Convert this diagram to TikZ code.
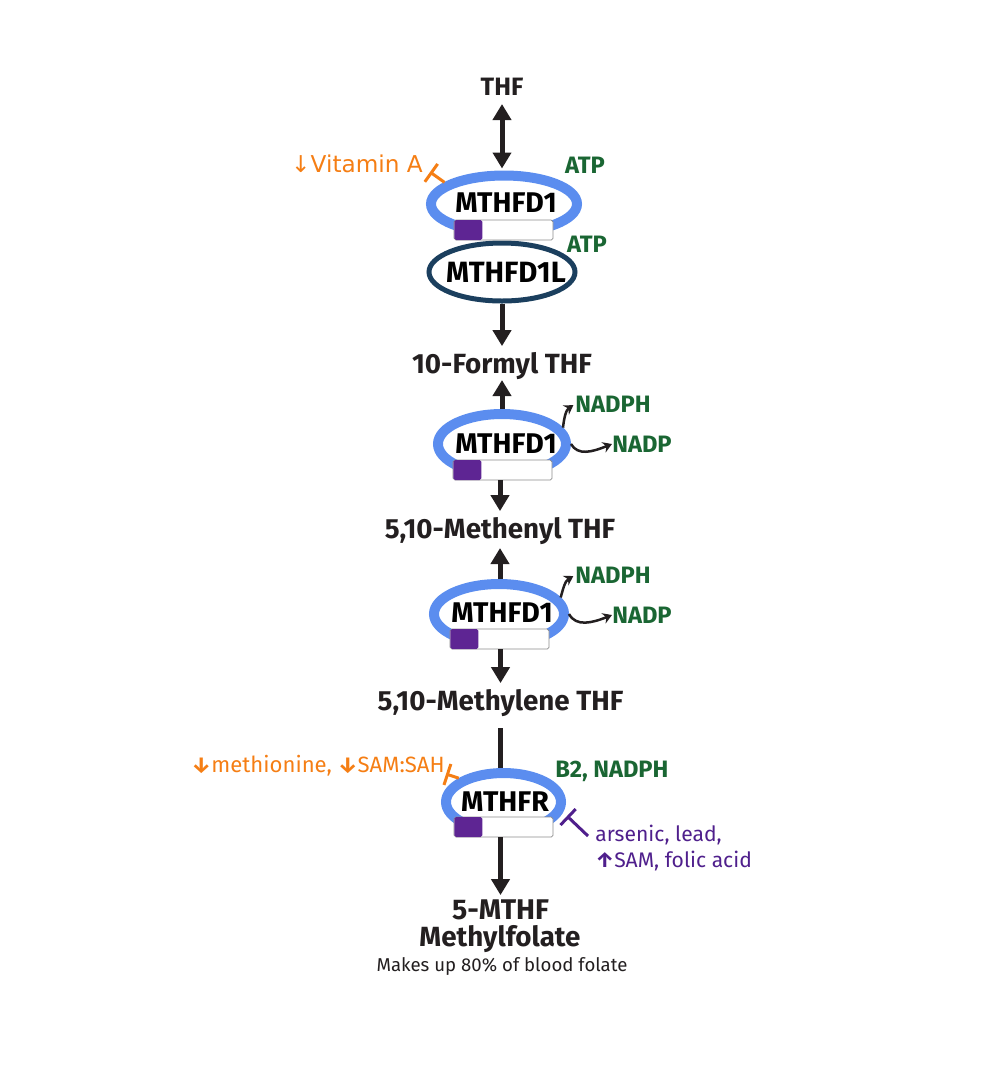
\documentclass[tikz,border=0pt]{standalone}
\usepackage{fontspec}
\setmainfont{Fira Sans}
\newfontfamily\djv{DejaVu Sans}
\usepackage{xcolor}
\usetikzlibrary{arrows.meta}
\usetikzlibrary{shapes.geometric}
\definecolor{enzblue}{HTML}{5B8DEF}
\definecolor{enznavy}{HTML}{1B3F5E}
\definecolor{barpurple}{HTML}{5E2593}
\definecolor{cofgreen}{HTML}{1A6633}
\definecolor{inhorange}{HTML}{F57E14}
\definecolor{inhpurple}{HTML}{4F1F8C}
\definecolor{inkdark}{HTML}{231F20}
\def\pxl{0.02cm}
\tikzset{
 metab/.style={anchor=base,inner sep=0pt,outer sep=0pt,text=inkdark,font=\fontsize{15.8}{17}\selectfont\bfseries,text height=15.3pt,text depth=4pt},
 enzring/.style={ellipse,draw=enzblue,line width=10*\pxl,minimum width=146*\pxl,minimum height=60*\pxl,inner sep=0pt,outer sep=5*\pxl},
 enzname/.style={inner sep=0pt,text=black,font=\fontsize{16.2}{17}\selectfont\bfseries},
 barbox/.style={draw=black!45,fill=white,rounded corners=1pt,line width=.4pt,minimum width=99*\pxl,minimum height=20*\pxl,inner sep=0pt,outer sep=0pt},
 barfill/.style={fill=barpurple,rounded corners=1pt,minimum width=28*\pxl,minimum height=20*\pxl,inner sep=0pt},
 cof/.style={inner sep=0pt,text=cofgreen,font=\fontsize{13.5}{15}\selectfont\bfseries},
 flow/.style={draw=inkdark,line width=5*\pxl,-{Triangle[width=18*\pxl,length=16*\pxl]}},
 flowboth/.style={draw=inkdark,line width=5*\pxl,{Triangle[width=18*\pxl,length=16*\pxl]}-{Triangle[width=18*\pxl,length=16*\pxl]}},
 side/.style={draw=inkdark,line width=2.5*\pxl,-{Stealth[width=11*\pxl,length=9*\pxl]}},
 inhibit/.style={line width=3*\pxl,-{Bar[width=22*\pxl,line width=3*\pxl]}}
}
\begin{document}
\begin{tikzpicture}[x=\pxl,y=-\pxl]
\useasboundingbox (0,0) rectangle (1000,1076);

% metabolites
\node[metab,font=\fontsize{14.3}{17}\selectfont\bfseries] (thf) at (502,95) {THF};
\node[metab] (formyl) at (502,373) {10-Formyl THF};
\node[metab] (methenyl) at (500,538) {5,10-Methenyl THF};
\node[metab] (methylene) at (500.5,710) {5,10-Methylene THF};
\node[metab,font=\fontsize{16.2}{17}\selectfont\bfseries,text height=13.6pt] (mthf) at (500.5,919) {5-MTHF};
\node[metab] (folate) at (500,946) {Methylfolate};
\node[anchor=base,inner sep=0pt,text=inkdark,font=\fontsize{10.6}{12}\selectfont] (note) at (502,971) {Makes up 80\% of blood folate};

% enzymes
\node[enzring,minimum width=146*\pxl,minimum height=57*\pxl] (ringa) at (504,204) {};
\node[enzring,draw=enznavy,line width=5*\pxl,outer sep=2.5*\pxl,minimum width=146*\pxl,minimum height=58*\pxl] (ringb) at (502,272) {};
\node[enzring,minimum width=128*\pxl,minimum height=60*\pxl] (ringc) at (502,444) {};
\node[enzring,minimum width=130*\pxl,minimum height=60*\pxl] (ringd) at (499,614) {};
\node[enzring,minimum width=115*\pxl,minimum height=58*\pxl] (ringe) at (503.5,802) {};

% bars on the enzymes
\node[barbox] (bara) at (503.5,230) {};
\node[barbox] (barc) at (502.5,470) {};
\node[barbox] (bard) at (499.5,639) {};
\node[barbox] (bare) at (503.5,827) {};
\foreach \b in {a,c,d,e} {
 \node[barfill,anchor=west] (fill\b) at (bar\b.west) {};
}

\node[enzname] (namea) at (506,203) {MTHFD1};
\node[enzname,font=\fontsize{16.7}{17}\selectfont\bfseries] (nameb) at (506,272) {MTHFD1L};
\node[enzname] (namec) at (506,444) {MTHFD1};
\node[enzname] (named) at (502,613) {MTHFD1};
\node[enzname] (namee) at (505,802) {MTHFR};

% main pathway
\draw[flowboth,shorten <=2*\pxl,shorten >=2*\pxl] (thf.south) -- (thf.south |- ringa.north);
\draw[flow] (ringb.south) -- (ringb.south |- formyl.north);
\draw[flow] (formyl.south |- ringc.north) -- (formyl.south);
\draw[flow] (barc.south -| methenyl.north) -- (methenyl.north);
\draw[flow,shorten >=3*\pxl] (methenyl.south |- ringd.north) -- (methenyl.south);
\draw[flow] (bard.south -| methylene.north) -- (methylene.north);
\draw[draw=inkdark,line width=5*\pxl,shorten <=11*\pxl] (methylene.south) -- (methylene.south |- ringe.north);
\draw[flow] (bare.south -| mthf.north) -- (mthf.north);

% cofactors
\node[cof] (atpa) at (585,165) {ATP};
\node[cof] (atpb) at (587,244) {ATP};
\node[cof] (nadpha) at (613,404) {NADPH};
\node[cof] (nadpa) at (642,444) {NADP};
\node[cof] (nadphb) at (613,575) {NADPH};
\node[cof] (nadpb) at (642,615) {NADP};
\node[cof] (bnadph) at (612,771) {B2, NADPH};

\draw[side,shorten >=2*\pxl] (ringc.15) .. controls (564,418) and (566,410) .. (nadpha.west);
\draw[side] (ringc.east) .. controls (578,456) and (592,452) .. (nadpa.west);
\draw[side,shorten >=2*\pxl] (ringd.15) .. controls (563,589) and (565,581) .. (nadphb.west);
\draw[side] (ringd.east) .. controls (576,627) and (592,623) .. (nadpb.west);

% inhibitors
\node[inner sep=0pt,text=inhorange,font=\djv\fontsize{13.2}{15}\selectfont] (vita) at (357,164) {↓Vitamin A};
\coordinate (vitaend) at (430,172);
\draw[inhibit,draw=inhorange] (ringa.160) -- (vitaend);
\node[inner sep=0pt,text=inhorange,font=\fontsize{12.6}{15}\selectfont] (meth) at (318,766) {{\bfseries↓}methionine, {\bfseries↓}SAM:SAH};
\coordinate (methend) at (446,774);
\draw[inhibit,draw=inhorange] (ringe.152) -- (methend);
\coordinate (leadstart) at (588,836);
\coordinate (leadend) at (567,816);
\draw[inhibit,draw=inhpurple] (leadstart) -- (leadend);
\node[anchor=north west,inner sep=0pt,align=left,text=inhpurple,font=\fontsize{12}{14.7}\selectfont] (lead) at (595,825) {arsenic, lead,\\{\bfseries↑}SAM, folic acid};
\end{tikzpicture}
\end{document}
